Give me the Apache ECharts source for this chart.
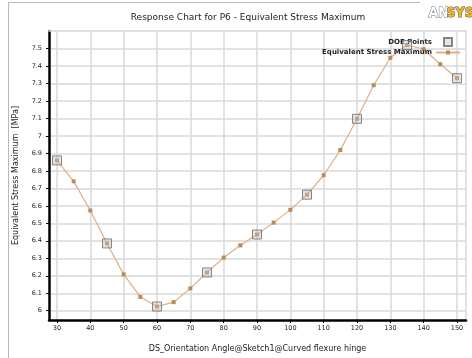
<!DOCTYPE html>
<html>
<head>
<meta charset="utf-8">
<script src="https://cdn.jsdelivr.net/npm/echarts@6/dist/echarts.min.js"></script>
<style>
  html, body { margin: 0; padding: 0; background: #ffffff; }
  #chart { width: 472px; height: 358px; }
</style>
</head>
<body>
<div id="chart"></div>
<script>
// Response sweep: orientation angle [deg] vs. equivalent stress maximum [MPa]
const angles = [30, 35, 40, 45, 50, 55, 60, 65, 70, 75, 80, 85, 90, 95, 100, 105, 110, 115, 120, 125, 130, 135, 140, 145, 150];
const stress = [6.86, 6.74, 6.573, 6.385, 6.208, 6.079, 6.024, 6.049, 6.128, 6.219, 6.304, 6.374, 6.436, 6.504, 6.577, 6.664, 6.775, 6.919, 7.098, 7.29, 7.447, 7.52, 7.496, 7.41, 7.33];

// Design-of-experiments sample points
const doeAngles = [30, 45, 60, 75, 90, 105, 120, 135, 150];
const doeStress = [6.86, 6.385, 6.024, 6.219, 6.436, 6.664, 7.098, 7.52, 7.33];

// Axis tick values
const xTicks = [30, 40, 50, 60, 70, 80, 90, 100, 110, 120, 130, 140, 150];
const yTicks = [6, 6.1, 6.2, 6.3, 6.4, 6.5, 6.6, 6.7, 6.8, 6.9, 7, 7.1, 7.2, 7.3, 7.4, 7.5];

const FONT = 'DejaVu Sans';
const fmt = v => String(parseFloat(Number(v).toFixed(2)));

const chart = echarts.init(document.getElementById('chart'), null, { renderer: 'canvas' });

chart.setOption({
  animation: false,
  backgroundColor: '#ffffff',
  title: {
    text: 'Response Chart for P6 - Equivalent Stress Maximum',
    left: 243,
    textAlign: 'center',
    top: 8,
    textStyle: { fontFamily: FONT, fontSize: 9, fontWeight: 'normal', color: '#222' }
  },
  legend: [
    {
      data: [{ name: 'DOE Points', icon: 'rect' }],
      orient: 'vertical',
      right: 19,
      top: 37,
      align: 'right',
      itemWidth: 8,
      itemHeight: 8,
      padding: 0,
      textStyle: { fontFamily: FONT, fontSize: 7, fontWeight: 'bold', color: '#222', padding: [0, 7, 0, 0] }
    },
    {
      data: ['Equivalent Stress Maximum'],
      orient: 'vertical',
      right: 11,
      top: 49,
      align: 'right',
      itemWidth: 24,
      itemHeight: 5,
      padding: 0,
      textStyle: { fontFamily: FONT, fontSize: 7, fontWeight: 'bold', color: '#222', padding: [0, -1, 0, 0] }
    }
  ],
  grid: { left: 49, right: 6, top: 31, bottom: 36, containLabel: false },
  xAxis: [
    {
      type: 'value',
      min: 27.6,
      max: 152.7,
      name: 'DS_Orientation Angle@Sketch1@Curved flexure hinge',
      nameLocation: 'middle',
      nameGap: 25,
      nameTextStyle: { fontFamily: FONT, fontSize: 8, color: '#222' },
      axisLine: { show: true, lineStyle: { color: '#000', width: 2.5 } },
      axisTick: { show: true, inside: false, length: 3, customValues: xTicks, lineStyle: { color: '#000', width: 1 } },
      axisLabel: { customValues: xTicks, fontFamily: FONT, fontSize: 6.5, color: '#222', margin: 5, formatter: fmt },
      splitLine: { show: true, lineStyle: { color: '#d8d8d8', width: 1.5 } }
    },
    {
      type: 'value',
      position: 'top',
      min: 27.6,
      max: 152.7,
      axisLine: { show: true, lineStyle: { color: '#d8d8d8', width: 1.5 } },
      axisTick: { show: false },
      axisLabel: { show: false },
      splitLine: { show: false }
    }
  ],
  yAxis: [
    {
      type: 'value',
      min: 5.947,
      max: 7.6,
      name: 'Equivalent Stress Maximum  [MPa]',
      nameLocation: 'middle',
      nameGap: 29,
      nameTextStyle: { fontFamily: FONT, fontSize: 8, color: '#222' },
      axisLine: { show: true, lineStyle: { color: '#000', width: 2.5 } },
      axisTick: { show: true, inside: false, length: 3, customValues: yTicks, lineStyle: { color: '#000', width: 1 } },
      axisLabel: { customValues: yTicks, fontFamily: FONT, fontSize: 6.5, color: '#222', margin: 7, formatter: fmt },
      splitLine: { show: true, lineStyle: { color: '#d8d8d8', width: 1.5 } }
    },
    {
      type: 'value',
      position: 'right',
      min: 5.947,
      max: 7.6,
      axisLine: { show: true, lineStyle: { color: '#d8d8d8', width: 1.5 } },
      axisTick: { show: false },
      axisLabel: { show: false },
      splitLine: { show: false }
    }
  ],
  series: [
    {
      name: 'Equivalent Stress Maximum',
      type: 'line',
      data: angles.map((a, i) => [a, stress[i]]),
      symbol: 'rect',
      symbolSize: 4,
      lineStyle: { color: '#dbb08a', width: 1.2 },
      itemStyle: { color: '#bb8a55' },
      z: 3
    },
    {
      name: 'DOE Points',
      type: 'scatter',
      data: doeAngles.map((a, i) => [a, doeStress[i]]),
      symbol: 'rect',
      symbolSize: 9,
      itemStyle: { color: 'rgba(200,196,192,0.55)', borderColor: '#6a6a6a', borderWidth: 1 },
      z: 4
    }
  ],
  graphic: [
    // outer frame
    { type: 'line', shape: { x1: 8.5, y1: 2.5, x2: 8.5, y2: 358 }, style: { stroke: '#b8b8b8', lineWidth: 1 }, silent: true },
    { type: 'line', shape: { x1: 8.5, y1: 2.5, x2: 420, y2: 2.5 }, style: { stroke: '#b8b8b8', lineWidth: 1 }, silent: true },
    // logo
    {
      type: 'text', left: 428, top: 6, z: 10,
      style: { text: 'AN', font: 'bold 14px "DejaVu Sans Condensed", "DejaVu Sans"', fill: '#ffffff', stroke: '#777777', lineWidth: 1 }
    },
    {
      type: 'text', left: 446, top: 6, z: 10,
      style: { text: 'SYS', font: 'bold 14px "DejaVu Sans Condensed", "DejaVu Sans"', fill: '#f4b61a', stroke: '#555555', lineWidth: 1 }
    }
  ]
});
</script>
</body>
</html>
